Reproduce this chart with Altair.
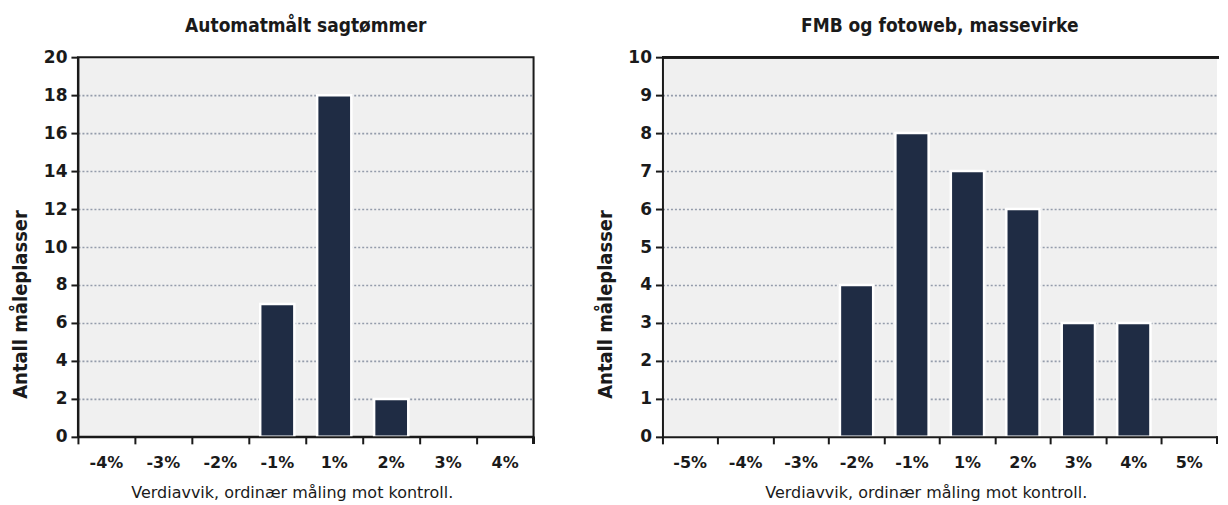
import altair as alt
import pandas as pd

# ---- data ----
cats_left = ["-4%", "-3%", "-2%", "-1%", "1%", "2%", "3%", "4%"]
vals_left = [0, 0, 0, 7, 18, 2, 0, 0]
title_left = "Automatmålt sagtømmer"

cats_right = ["-5%", "-4%", "-3%", "-2%", "-1%", "1%", "2%", "3%", "4%", "5%"]
vals_right = [0, 0, 0, 4, 8, 7, 6, 3, 3, 0]
title_right = "FMB og fotoweb, massevirke"

x_title = "Verdiavvik, ordinær måling mot kontroll."
y_title = "Antall måleplasser"

BAR = "#1f2c44"
INK = "#1a1a1a"
GRID = "#949cab"
BG = "#f0f0f0"
FONT_COND = "'DejaVu Sans Condensed', 'DejaVu Sans', sans-serif"
FONT_B = "'DejaVu Sans', sans-serif"
HEIGHT = 380


def panel(cats, vals, title, ymax, ystep, step, right_border):
    df = pd.DataFrame({"cat": cats, "n": vals})
    width = round(step * len(cats))
    x = alt.X(
        "cat:N",
        sort=cats,
        scale=alt.Scale(domain=cats, paddingInner=0, paddingOuter=0),
        axis=alt.Axis(
            title=x_title,
            titleFont=FONT_B,
            titleFontSize=16,
            titleFontWeight="normal",
            titleColor=INK,
            titlePadding=14,
            titleX=width / 2 - 14,
            titleAlign="center",
            labelFont=FONT_B,
            labelFontSize=16,
            labelFontWeight="bold",
            labelColor=INK,
            labelAngle=0,
            labelPadding=11,
            bandPosition=0,
            tickColor=INK,
            tickWidth=2,
            tickSize=7,
            domainColor=INK,
            domainWidth=2,
            grid=False,
            zindex=1,
        ),
    )
    y = alt.Y(
        "n:Q",
        scale=alt.Scale(domain=[0, ymax], nice=False),
        axis=alt.Axis(
            title=y_title,
            titleFont=FONT_COND,
            titleFontSize=20,
            titleFontWeight="bold",
            titleColor=INK,
            titleX=-57,
            titleY=247,
            titleAngle=270,
            titleAlign="center",
            titleBaseline="middle",
            values=list(range(0, ymax + 1, ystep)),
            labelFont=FONT_B,
            labelFontSize=17,
            labelFontWeight="bold",
            labelColor=INK,
            labelPadding=4,
            tickColor=INK,
            tickWidth=2,
            tickSize=7,
            domainColor=INK,
            domainWidth=2,
            grid=True,
            gridColor=GRID,
            gridDash=[2, 2],
            gridWidth=1.6,
            gridOpacity=alt.condition(
                f"datum.value == {ymax} || datum.value == 0", alt.value(0), alt.value(1)
            ),
        ),
    )
    bars = (
        alt.Chart(df)
        .transform_filter("datum.n > 0")
        .mark_bar(color=BAR, stroke="white", strokeWidth=2.5, width=alt.RelativeBandSize(0.6))
        .encode(x=x, y=y)
    )
    end_tick = alt.Chart(df).mark_rule(color=INK, strokeWidth=2).encode(
        x=alt.value(width), y=alt.value(HEIGHT), y2=alt.value(HEIGHT + 7)
    )
    layers = [bars, end_tick]
    if right_border:
        view = alt.ViewBackground(fill=BG, stroke=INK, strokeWidth=2)
    else:
        view = alt.ViewBackground(fill=BG, stroke="transparent", strokeWidth=0)
        top_line = alt.Chart(df).mark_rule(color=INK, strokeWidth=2).encode(
            x=alt.value(0), x2=alt.value(width + 2), y=alt.value(0)
        )
        layers.append(top_line)
    return alt.layer(*layers).properties(
        width=width,
        height=HEIGHT,
        view=view,
        title=alt.TitleParams(
            title,
            font=FONT_COND,
            fontSize=19,
            fontWeight="bold",
            color=INK,
            anchor="middle",
            offset=12,
        ),
    )


left = panel(cats_left, vals_left, title_left, 20, 2, 57, True)
right = panel(cats_right, vals_right, title_right, 10, 1, 55.5, False)

chart = (
    alt.hconcat(left, right, spacing=60)
    .configure(background="white", padding={"left": 2, "top": 8, "right": 0, "bottom": 0})
)

chart.save("out.html", embed_options={"renderer": "svg", "actions": False})
